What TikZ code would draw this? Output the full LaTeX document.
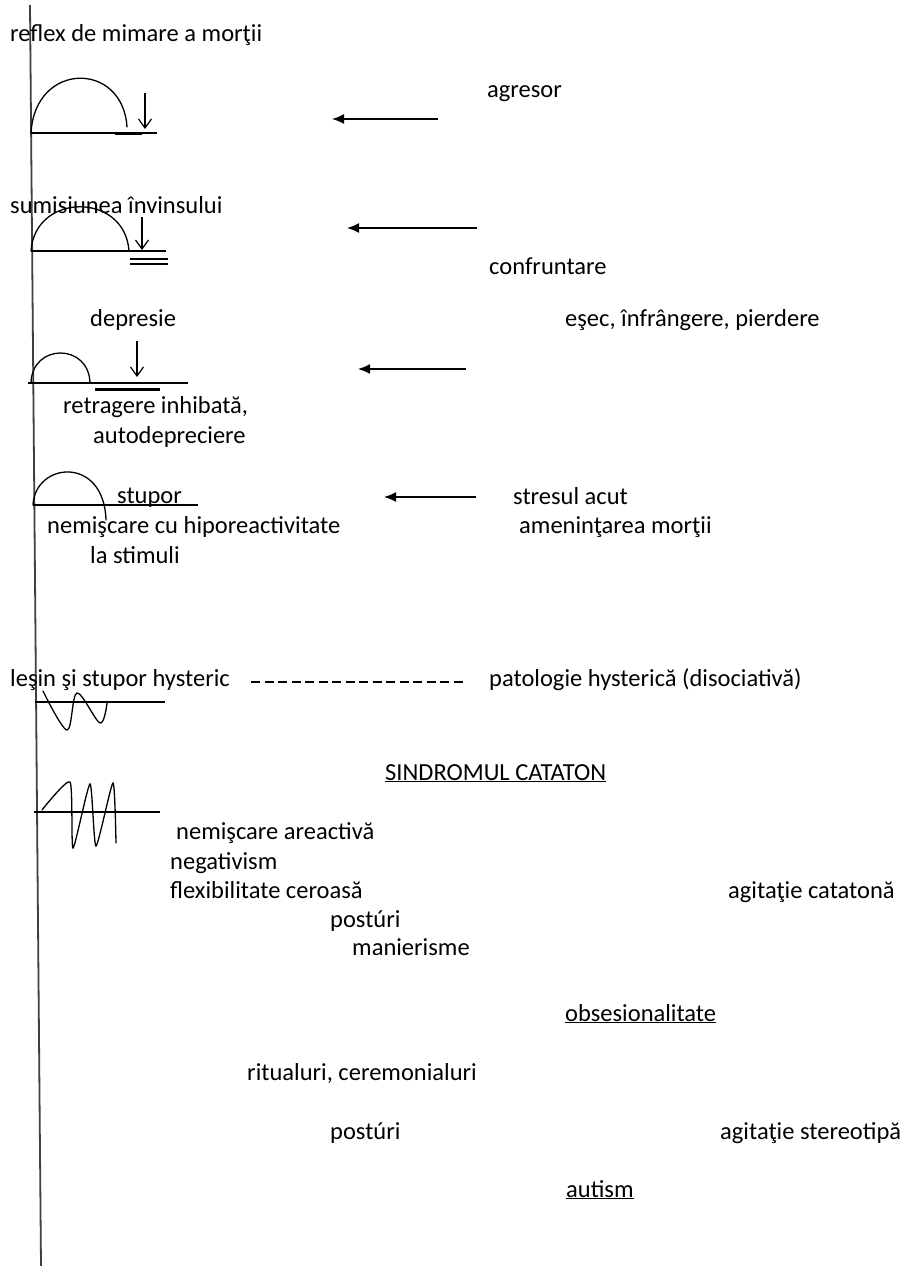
\documentclass[tikz,border=0pt]{standalone}
\usepackage{fontspec}
\setmainfont{Carlito}
\usetikzlibrary{arrows.meta}
\begin{document}
\begin{tikzpicture}[x=1pt,y=-1pt,
  font=\fontsize{24.5}{29}\selectfont,
  lbl/.style={anchor=base west, inner sep=0pt},
  ln/.style={line width=1.3pt, line cap=round},
  axis/.style={line width=1.5pt},
  thickseg/.style={line width=3pt},
  downarr/.style={line width=1.2pt, -{Straight Barb[length=9pt,width=13pt]}},
  leftarr/.style={line width=1.5pt, -{Latex[length=12pt,width=10pt]}},
  dashline/.style={line width=1.3pt, dash pattern=on 9pt off 4.5pt}]
\useasboundingbox (0,0) rectangle (904,1266);
\fill[white] (0,0) rectangle (904,1266);

% main vertical axis
\coordinate (vtop) at (30,5);
\coordinate (vbot) at (41,1266);
\draw[line width=1.8pt, black!75] (vtop) -- (vbot);

% texts
\node[lbl] (t1) at (10,41) {reflex de mimare a morţii};
\node[lbl] (t2) at (487,97) {agresor};
\node[lbl] (t3) at (10,213) {sumisiunea învinsului};
\node[lbl] (t4) at (489,274) {confruntare};
\node[lbl] (t5) at (90,326) {depresie};
\node[lbl] (t6) at (565,326) {eşec, înfrângere, pierdere};
\node[lbl] (t7) at (63,413) {retragere inhibată,};
\node[lbl] (t8) at (93,443) {autodepreciere};
\node[lbl] (t9) at (117,503) {stupor};
\node[lbl] (t10) at (47,533) {nemişcare cu hiporeactivitate};
\node[lbl] (t11) at (90,563) {la stimuli};
\node[lbl] (t12) at (513,504) {stresul acut};
\node[lbl] (t13) at (519,533) {ameninţarea morţii};
\node[lbl] (t14) at (10,686) {leşin şi stupor hysteric};
\node[lbl] (t15) at (489,686) {patologie hysterică (disociativă)};
\node[lbl] (t16) at (385,780) {\underline{SINDROMUL CATATON}};
\node[lbl] (t17) at (176,839) {nemişcare areactivă};
\node[lbl] (t18) at (170,869) {negativism};
\node[lbl] (t19) at (170,898) {flexibilitate ceroasă};
\node[lbl] (t20) at (728,898) {agitaţie catatonă};
\node[lbl] (t21) at (330,927) {postúri};
\node[lbl] (t22) at (352,955) {manierisme};
\node[lbl] (t23) at (565,1021) {\underline{obsesionalitate}};
\node[lbl] (t24) at (247,1080) {ritualuri, ceremonialuri};
\node[lbl] (t25) at (330,1139) {postúri};
\node[lbl] (t26) at (720,1139) {agitaţie stereotipă};
\node[lbl] (t27) at (566,1197) {\underline{autism}};

% glyph 1: reflex
\draw[axis] (31,133) -- (157,133);
\draw[ln] (31,133) .. controls (35,61) and (123,61) .. (127,127);
\draw[thickseg] (115,133) -- (142,133);
\coordinate (d1a) at (145,93); \coordinate (d1b) at (145,129);
\draw[downarr] (d1a) -- (d1b);

% glyph 2: sumisiune
\draw[axis] (31,251) -- (166,251);
\draw[ln] (31,251) .. controls (35,192) and (125,192) .. (129,251);
\draw[line width=1.2pt] (130,259) -- (168,259) (130,264) -- (168,264);
\coordinate (d2a) at (142,217); \coordinate (d2b) at (142,250);
\draw[downarr] (d2a) -- (d2b);

% glyph 3: depresie
\draw[axis] (28,383) -- (188,383);
\draw[ln] (31,383) .. controls (32,343) and (89,343) .. (90,383);
\draw[thickseg] (95,389) -- (160,389);
\coordinate (d3a) at (137,341); \coordinate (d3b) at (137,377);
\draw[downarr] (d3a) -- (d3b);

% glyph 4: stupor
\draw[axis] (33,505) -- (198,505);
\draw[ln] (33,505) .. controls (35,462) and (104,455) .. (106,520);

% glyph 5: lesin
\draw[axis] (35,702) -- (165,702);
\draw[ln] plot[smooth, tension=0.55] coordinates {(43,691) (67,730) (77,693) (100,723) (107,703)};

% glyph 6: cataton
\draw[axis] (34,812) -- (160,812);
\draw[ln] plot[smooth, tension=0.35] coordinates {(42,810) (70,782) (73,848) (90,784) (96,846) (113,783) (116,843)};

% arrows
\coordinate (a1s) at (438,119); \coordinate (a1e) at (332,119);
\draw[leftarr] (a1s) -- (a1e);
\coordinate (a2s) at (477,228); \coordinate (a2e) at (347,228);
\draw[leftarr] (a2s) -- (a2e);
\coordinate (a3s) at (466,369); \coordinate (a3e) at (358,369);
\draw[leftarr] (a3s) -- (a3e);
\coordinate (a4s) at (476,497); \coordinate (a4e) at (384,497);
\draw[leftarr] (a4s) -- (a4e);

% dashed link
\coordinate (ds) at (251,682); \coordinate (de) at (467,682);
\draw[dashline] (ds) -- (de);
\end{tikzpicture}
\end{document}
